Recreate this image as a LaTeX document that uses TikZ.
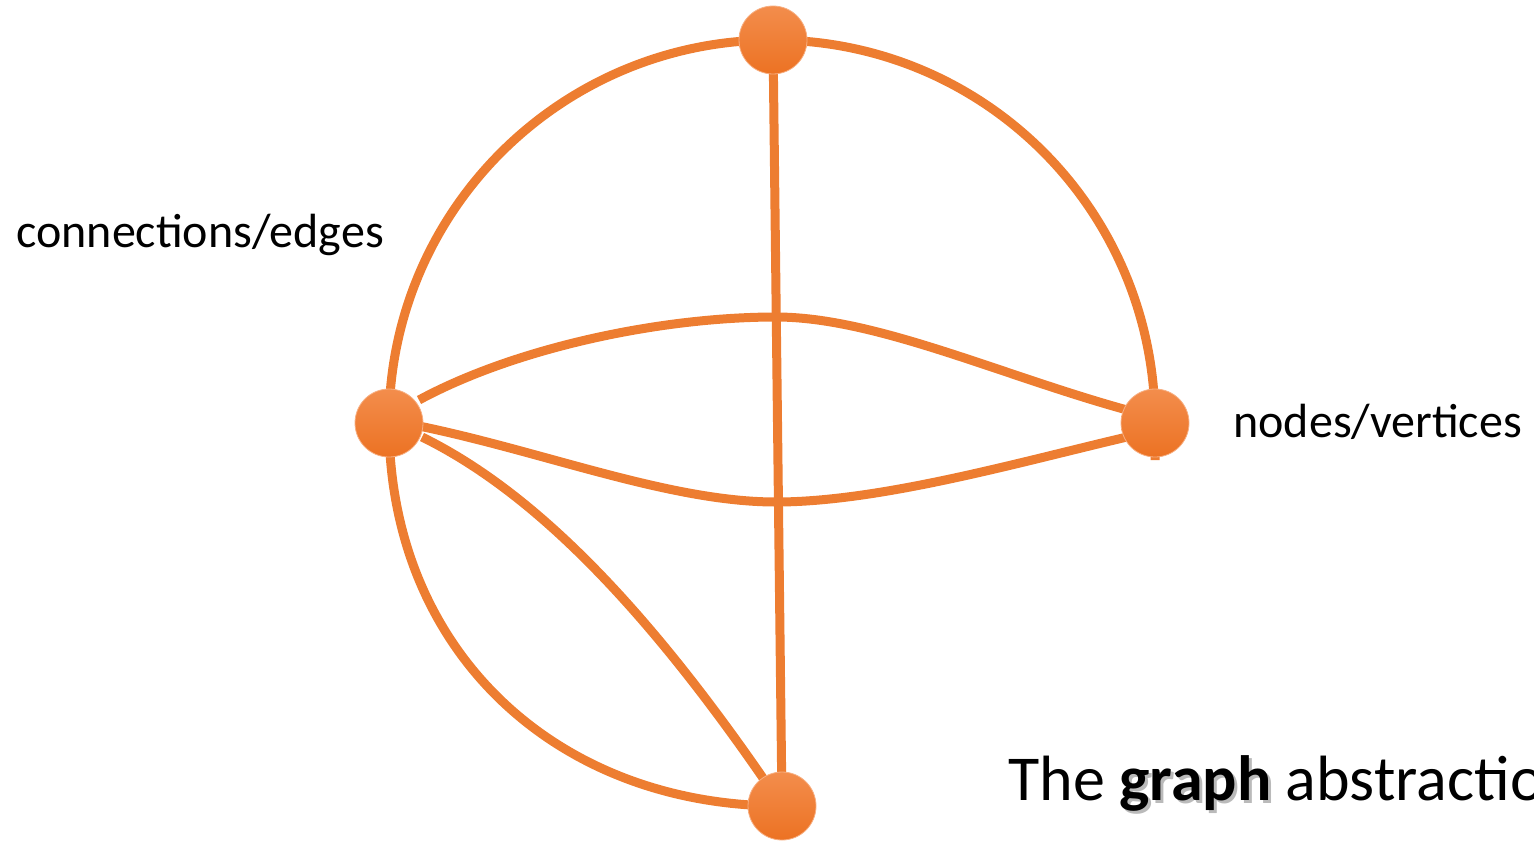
\documentclass[tikz,border=0pt]{standalone}
\usepackage{fontspec}
\setmainfont{Carlito}
\usetikzlibrary{backgrounds}
\definecolor{edgeor}{HTML}{ED7D31}
\definecolor{nodetop}{HTML}{F38D4C}
\definecolor{nodebot}{HTML}{EC7223}
\tikzset{
  vtx/.style={circle, minimum size=34pt, inner sep=0pt, top color=nodetop, bottom color=nodebot, draw=nodetop!70!white, line width=0.4pt},
  link/.style={draw=edgeor, line width=4.5pt},
  lbl/.style={anchor=base west, inner sep=0pt, font=\fontsize{24}{28}\selectfont}
}
\begin{document}
\begin{tikzpicture}[x=0.5pt,y=-0.5pt]
\useasboundingbox (0,0) rectangle (1534,840);
\clip (0,0) rectangle (1534,840);

\node[vtx] (t) at (773,40) {};
\node[vtx] (l) at (389,423) {};
\node[vtx] (r) at (1155,423) {};
\node[vtx] (b) at (782,806) {};

\coordinate (ua) at (419,400);
\coordinate (um) at (776,317);
\coordinate (ub) at (1127,410);
\coordinate (la) at (419,426);
\coordinate (lm) at (776,502);
\coordinate (lb) at (1127,437);
\coordinate (da) at (422,437);
\coordinate (db) at (763,778);
\coordinate (rs) at (1155,460);

\begin{scope}[on background layer]
\draw[link] (t.center) .. controls (561,40) and (389,211) .. (l.center);
\draw[link] (l.center) .. controls (389,650) and (555,806) .. (b.center);
\draw[link] (t.center) .. controls (985,40) and (1155,211) .. (r.center) -- (rs);
\draw[link] (t.center) -- (b.center);
\draw[link] (ua) .. controls (515,348) and (660,317) .. (um)
                 .. controls (875,317) and (1000,375) .. (ub);
\draw[link] (la) .. controls (545,452) and (670,502) .. (lm)
                 .. controls (880,502) and (1020,462) .. (lb);
\draw[link] (da) .. controls (530,490) and (640,600) .. (db);
\end{scope}

\node[lbl] (edgesl) at (16,247) {connections/edges};
\node[lbl] (nodesl) at (1233,437) {nodes/vertices};

\node[anchor=base west, inner sep=0pt, font=\fontsize{32}{38}\selectfont, text=black!45, opacity=0.6] (shadow) at (1011,803) {\phantom{The }\textbf{graph}};
\node[anchor=base west, inner sep=0pt, font=\fontsize{32}{38}\selectfont] (title) at (1008,800) {The \textbf{graph} abstraction};
\end{tikzpicture}
\end{document}
